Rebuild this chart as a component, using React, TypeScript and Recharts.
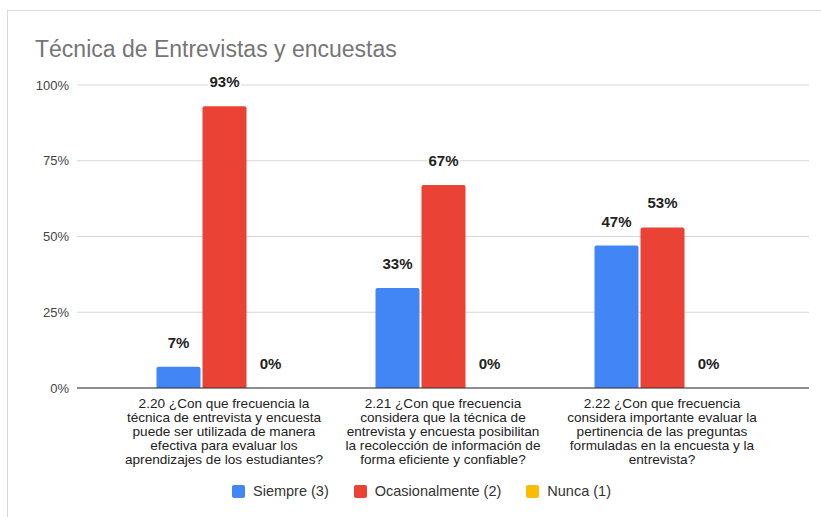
import { Bar, BarChart, CartesianGrid, LabelList, Legend, XAxis, YAxis } from 'recharts';

const FONT = '"Liberation Sans", Arial, sans-serif';

const categories = ['2.20', '2.21', '2.22'];
const categoryLines = [
  [
    '2.20 ¿Con que frecuencia la',
    'técnica de entrevista y encuesta',
    'puede ser utilizada de manera',
    'efectiva para evaluar los',
    'aprendizajes de los estudiantes?',
  ],
  [
    '2.21 ¿Con que frecuencia',
    'considera que la técnica de',
    'entrevista y encuesta posibilitan',
    'la recolección de información de',
    'forma eficiente y confiable?',
  ],
  [
    '2.22 ¿Con que frecuencia',
    'considera importante evaluar la',
    'pertinencia de las preguntas',
    'formuladas en la encuesta y la',
    'entrevista?',
  ],
];
const siempre = [7, 33, 47];
const ocasionalmente = [93, 67, 53];
const nunca = [0, 0, 0];
const yTicks = [0, 25, 50, 75, 100];

const SERIES = [
  { key: 'siempre', name: 'Siempre (3)', color: '#4285f4' },
  { key: 'ocasionalmente', name: 'Ocasionalmente (2)', color: '#ea4335' },
  { key: 'nunca', name: 'Nunca (1)', color: '#fbbc04' },
];

const rows = categories.map((category, i) => ({
  category,
  siempre: siempre[i],
  ocasionalmente: ocasionalmente[i],
  nunca: nunca[i],
}));

function QuestionTick(props: any) {
  const { x, y, payload } = props;
  const lines = categoryLines[categories.indexOf(payload.value)] || [];
  return (
    <text x={x} y={y} textAnchor="middle" fill="#222" fontSize={13.6} fontFamily={FONT}>
      {lines.map((line, i) => (
        <tspan key={i} x={x} y={y + 12 + i * 14}>
          {line}
        </tspan>
      ))}
    </text>
  );
}

function PercentLabel(props: any) {
  const { x, y, width, value } = props;
  if (x == null || y == null) return null;
  const cx = x + width / 2;
  const baseline = y - 19;
  const label = `${value}%`;
  const w = label.length * 9 + 6;
  return (
    <g>
      <rect x={cx - w / 2} y={baseline - 14} width={w} height={18} fill="#ffffff" />
      <text x={cx} y={baseline} textAnchor="middle" fill="#222" fontSize={15} fontWeight={700} fontFamily={FONT}>
        {label}
      </text>
    </g>
  );
}

function LegendRow() {
  return (
    <div
      style={{
        display: 'flex',
        justifyContent: 'center',
        alignItems: 'center',
        gap: 25,
        paddingLeft: 22,
        height: 26,
        fontFamily: FONT,
        fontSize: 14.5,
        color: '#333',
      }}
    >
      {SERIES.map((s) => (
        <div key={s.key} style={{ display: 'flex', alignItems: 'center', gap: 8 }}>
          <span style={{ width: 13, height: 13, borderRadius: 2, background: s.color, display: 'inline-block' }} />
          <span>{s.name}</span>
        </div>
      ))}
    </div>
  );
}

export default function App() {
  return (
    <div style={{ position: 'absolute', left: 0, top: 0, width: 821, height: 517, background: '#fff', overflow: 'hidden' }}>
      <div
        style={{
          position: 'absolute',
          left: 7,
          top: 10,
          width: 900,
          height: 700,
          border: '1px solid #dadada',
        }}
      />
      <div
        style={{
          position: 'absolute',
          left: 35,
          top: 36,
          fontFamily: FONT,
          fontSize: 23,
          lineHeight: '26px',
          color: '#757575',
          whiteSpace: 'nowrap',
        }}
      >
        Técnica de Entrevistas y encuestas
      </div>
      <BarChart
        width={821}
        height={517}
        data={rows}
        margin={{ top: 85, right: 12, bottom: 13, left: 0 }}
        barGap={2}
        style={{ position: 'absolute', left: 0, top: 0 }}
      >
        <CartesianGrid vertical={false} stroke="#d6d6d6" />
        <XAxis
          dataKey="category"
          interval={0}
          height={90}
          padding={{ left: 37.5, right: 37.5 }}
          tick={<QuestionTick />}
          tickLine={false}
          axisLine={{ stroke: '#333', strokeWidth: 1 }}
        />
        <YAxis
          width={77}
          domain={[0, 100]}
          ticks={yTicks}
          tickFormatter={(v) => `${v}%`}
          tick={{ fill: '#444', fontSize: 13, fontFamily: FONT }}
          axisLine={false}
          tickLine={false}
        />
        <Legend
          verticalAlign="bottom"
          content={<LegendRow />}
          wrapperStyle={{ left: 0, width: 821 }}
        />
        {SERIES.map((s) => (
          <Bar
            key={s.key}
            dataKey={s.key}
            name={s.name}
            fill={s.color}
            barSize={44}
            minPointSize={0.01}
            radius={[2, 2, 0, 0]}
            isAnimationActive={false}
          >
            <LabelList dataKey={s.key} content={<PercentLabel />} />
          </Bar>
        ))}
      </BarChart>
    </div>
  );
}
